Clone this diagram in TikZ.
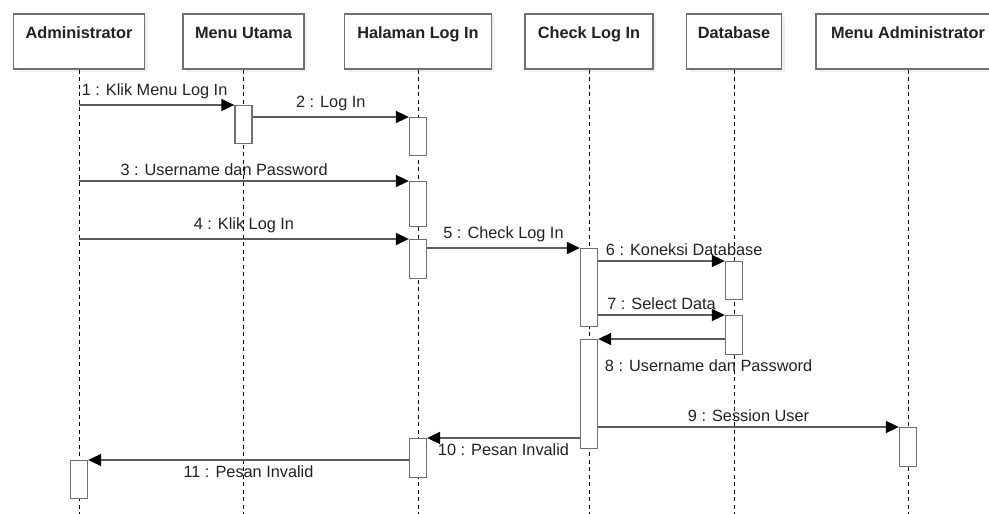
\documentclass[tikz,border=0pt]{standalone}
\usepackage{fontspec}
\setmainfont{Liberation Sans}
\usetikzlibrary{arrows.meta,shadows,positioning}
\definecolor{linegray}{HTML}{707070}
\definecolor{msggray}{HTML}{5C5C5C}
\definecolor{txt}{HTML}{222222}

\begin{document}
\begin{tikzpicture}[x=1pt,y=-1pt,>={Triangle[length=13pt,width=12pt,color=black]},
    part/.style={draw=linegray,line width=1.3pt,fill=white,minimum height=55pt,text depth=17pt,inner sep=0pt,text=txt,font=\bfseries\fontsize{16.3}{19}\selectfont,drop shadow={shadow xshift=3pt,shadow yshift=-3pt,opacity=0.12}},
    actbox/.style={draw=linegray,line width=1.3pt,fill=white,minimum width=17pt,minimum height=#1,inner sep=0pt,anchor=north},
    life/.style={dash pattern=on 4pt off 3.5pt,line width=1pt},
    msg/.style={->,draw=msggray,line width=1.6pt},
    lbl/.style={font=\fontsize{16.3}{19}\selectfont,text=txt,inner sep=1pt}]

    \useasboundingbox (0,0) rectangle (989,514);

    % participants
    \node[part,minimum width=131pt] (admin) at (79,41.5) {Administrator};
    \node[part,minimum width=121pt] (utama) at (243.5,41.5) {Menu Utama};
    \node[part,minimum width=147pt] (halaman) at (418,41.5) {Halaman Log In};
    \node[part,minimum width=128pt] (check) at (589,41.5) {Check Log In};
    \node[part,minimum width=95pt] (db) at (734,41.5) {Database};
    \node[part,minimum width=184pt] (madmin) at (908,41.5) {Menu Administrator};

    % lifelines
    \foreach \p in {admin,utama,halaman,check,db,madmin}
        \draw[life] (\p.south) -- (\p.south |- 0,514);

    % activations
    \node[actbox=38pt] (u1) at (utama |- 0,105) {};
    \node[actbox=38pt] (h1) at (halaman |- 0,117) {};
    \node[actbox=45pt] (h2) at (halaman |- 0,181) {};
    \node[actbox=39pt] (h3) at (halaman |- 0,239) {};
    \node[actbox=78pt] (c1) at (check |- 0,248) {};
    \node[actbox=38pt] (d1) at (db |- 0,261) {};
    \node[actbox=39pt] (d2) at (db |- 0,315) {};
    \node[actbox=109pt] (c2) at (check |- 0,339) {};
    \node[actbox=39pt] (m1) at (madmin |- 0,427) {};
    \node[actbox=39pt] (h4) at (halaman |- 0,438) {};
    \node[actbox=38pt] (a1) at (admin |- 0,460) {};

    % messages
    \draw[msg] (admin |- u1.north) -- node[lbl,above right=4pt and 1pt,pos=0]{1 : Klik Menu Log In} (u1.north west);
    \draw[msg] (u1.east |- h1.north) -- node[lbl,above=4pt]{2 : Log In} (h1.north west);
    \draw[msg] (admin |- h2.north) -- node[lbl,above=4pt,pos=0.44]{3 : Username dan Password} (h2.north west);
    \draw[msg] (admin |- h3.north) -- node[lbl,above=4pt]{4 : Klik Log In} (h3.north west);
    \draw[msg] (h3.east |- c1.north) -- node[lbl,above=4pt]{5 : Check Log In} (c1.north west);
    \draw[msg] (c1.east |- d1.north) -- node[lbl,above right=4pt and 6pt,pos=0]{6 : Koneksi Database} (d1.north west);
    \draw[msg] (c1.east |- d2.north) -- node[lbl,above=4pt]{7 : Select Data} (d2.north west);
    \draw[msg] (d2.west |- c2.north) -- node[lbl,below right=19pt and 5pt,pos=1]{8 : Username dan Password} (c2.north east);
    \draw[msg] (c2.east |- m1.north) -- node[lbl,above=4pt]{9 : Session User} (m1.north west);
    \draw[msg] (c2.west |- h4.north) -- node[lbl,below=4pt]{10 : Pesan Invalid} (h4.north east);
    \draw[msg] (h4.west |- a1.north) -- node[lbl,below=4pt]{11 : Pesan Invalid} (a1.north east);
\end{tikzpicture}
\end{document}
